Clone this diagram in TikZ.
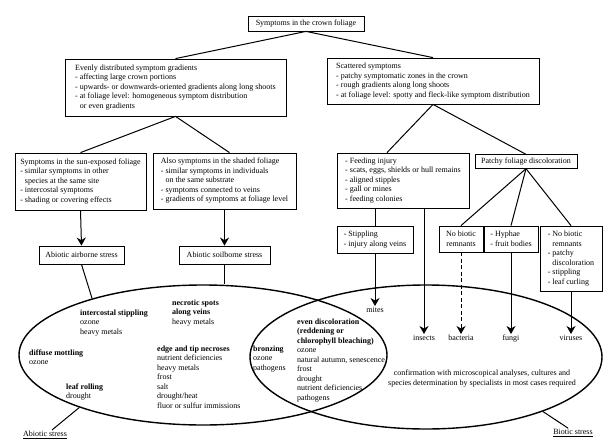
\documentclass[tikz,border=0pt]{standalone}
\usepackage{fontspec}
\setmainfont{Liberation Serif}
\usetikzlibrary{shapes.geometric,arrows.meta,calc}
\begin{document}
\begin{tikzpicture}[x=1pt,y=-1pt,
  every node/.style={font=\fontsize{8}{9.5}\selectfont},
  box/.style={draw, line width=0.8pt, inner sep=0pt, align=left},
  cbox/.style={draw, line width=0.8pt, inner sep=0pt, align=center},
  conn/.style={line width=1pt},
  arr/.style={line width=1pt, -{Stealth[length=8pt,width=9pt,inset=2.5pt]}},
  oval/.style={draw, ellipse, line width=1.4pt, inner sep=0pt},
  etext/.style={anchor=north west, inner sep=0pt, align=left},
  lab/.style={inner sep=1pt},
]
\useasboundingbox[fill=white] (0,0) rectangle (616,442);

% ellipses
\node[oval, minimum width=368pt, minimum height=140pt] (abio) at (203,355) {};
\node[oval, minimum width=352pt, minimum height=144pt] (bio) at (426,357) {};

% top
\node[cbox, minimum width=116pt, minimum height=15pt] (top) at (306,23.5) {Symptoms in the crown foliage};

\node[box, minimum width=221pt, minimum height=57pt] (even) at (175.5,87.5)
 {Evenly distributed symptom gradients\\
  - affecting large crown portions\\
  - upwards- or downwards-oriented gradients along long shoots\\
  - at foliage level: homogeneous symptom distribution\\
  \phantom{- }or even gradients};

\node[box, minimum width=212pt, minimum height=46pt] (scat) at (433,81)
 {Scattered symptoms\\
  - patchy symptomatic zones in the crown\\
  - rough gradients along long shoots\\
  - at foliage level: spotty and fleck-like symptom distribution};

\node[box, minimum width=131pt, minimum height=57pt] (sun) at (80.5,181.5)
 {Symptoms in the sun-exposed foliage\\
  - similar symptoms in other\\
  \phantom{- }species at the same site\\
  - intercostal symptoms\\
  - shading or covering effects};

\node[box, minimum width=143pt, minimum height=56pt] (shade) at (224.5,181)
 {Also symptoms in the shaded foliage\\
  - similar symptoms in individuals\\
  \phantom{- }on the same substrate\\
  - symptoms connected to veins\\
  - gradients of symptoms at foliage level};

\node[cbox, minimum width=85pt, minimum height=18pt] (air) at (81.5,255) {Abiotic airborne stress};
\node[cbox, minimum width=91pt, minimum height=18pt] (soil) at (224.5,255) {Abiotic soilborne stress};

\node[box, minimum width=132pt, minimum height=55pt] (feed) at (403,180.5)
 {- Feeding injury\\
  - scats, eggs, shields or hull remains\\
  - aligned stipples\\
  - gall or mines\\
  - feeding colonies};

\node[cbox, minimum width=102pt, minimum height=13.5pt] (patchy) at (526,161.5) {Patchy foliage discoloration};

\node[box, minimum width=76pt, minimum height=27pt] (stip) at (375,239.5)
 {- Stippling\\- injury along veins};
\node[cbox, minimum width=44pt, minimum height=26pt] (nobio) at (461,239) {No biotic\\remnants};
\node[box, minimum width=54pt, minimum height=26pt] (hyph) at (511,239) {- Hyphae\\- fruit bodies};
\node[box, minimum width=62pt, minimum height=65pt] (third) at (571,258.5)
 {- No biotic\\
  \phantom{- }remnants\\
  - patchy\\
  \phantom{- }discoloration\\
  - stippling\\
  - leaf curling};

% end labels
\node[lab, anchor=north] (mites) at (375,306) {mites};
\node[lab, anchor=north] (insects) at (424,334) {insects};
\node[lab, anchor=north] (bact) at (461,334) {bacteria};
\node[lab, anchor=north] (fungi) at (511,334) {fungi};
\node[lab, anchor=north] (vir) at (571,334) {viruses};

% connectors
\draw[conn] (top.south) -- (even.north);
\draw[conn] (top.south) -- (scat.north);
\draw[conn] (even.south) -- (sun.north);
\draw[conn] (even.south) -- ([xshift=5pt]shade.north);
\draw[conn] (scat.south) -- ([xshift=-16pt]feed.north);
\draw[conn] (scat.south) -- (patchy.north);
\draw[conn] (patchy.south) -- (nobio.north);
\draw[conn] (patchy.south) -- (hyph.north);
\draw[conn] (patchy.south) -- (third.north);

\draw[arr] (sun.south) -- (air.north);
\draw[arr] (shade.south) -- (soil.north);
\draw[conn] (air.south) -- (abio.153);
\draw[conn] (soil.south) -- (soil.south |- abio.north);

\draw[conn] (feed.south -| stip.north) -- (stip.north);
\draw[arr] (stip.south) -- (mites.north);
\draw[arr] (feed.south -| insects.north) -- (insects.north);
\draw[arr, dash pattern=on 4pt off 2.5pt] (nobio.south) -- (bact.north);
\draw[arr] (hyph.south) -- (fungi.north);
\draw[arr] (third.south) -- (vir.north);

% ellipse texts
\node[etext] (t1) at (80,309.5) {\textbf{intercostal stippling}\\ozone\\heavy metals};
\node[etext] (t2) at (172,299.5) {\textbf{necrotic spots}\\\textbf{along veins}\\heavy metals};
\node[etext] (t3) at (29,349.5) {\textbf{diffuse mottling}\\ozone};
\node[etext] (t4) at (157,345.5) {\textbf{edge and tip necroses}\\nutrient deficiencies\\heavy metals\\frost\\salt\\drought/heat\\fluor or sulfur immissions};
\node[etext] (t5) at (66,383.5) {\textbf{leaf rolling}\\drought};
\node[etext] (t6) at (253,345.5) {\textbf{bronzing}\\ozone\\pathogens};
\node[etext] (t7) at (297,318.5) {\textbf{even discoloration}\\\textbf{(reddening or}\\\textbf{chlorophyll bleaching)}\\ozone\\natural autumn, senescence\\frost\\drought\\nutrient deficiencies\\pathogens};
\node[align=center, inner sep=0pt] (conf) at (482,378.5) {confirmation with microscopical analyses, cultures and\\species determination by specialists in most cases required};

% stress labels
\node[lab] (abl) at (45,435) {\underline{Abiotic stress}};
\node[lab] (bl) at (573,433) {\underline{Biotic stress}};
\draw[conn] ([xshift=7pt]abl.north) -- (abio.203.3);
\draw[conn] ([xshift=-5pt]bl.north) -- (bio.335.2);
\end{tikzpicture}
\end{document}
